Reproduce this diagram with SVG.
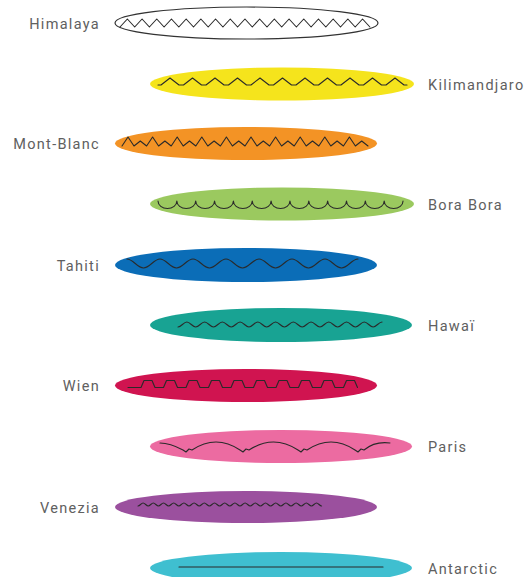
<svg xmlns="http://www.w3.org/2000/svg" width="526" height="577" viewBox="0 0 526 577">
<style>
.lbl{font-family:Roboto,"Liberation Sans",sans-serif;font-size:14.5px;letter-spacing:1.3px;fill:#606060}
.l{text-anchor:end}
.w{fill:none;stroke:#2a2a2a;stroke-width:1.1;stroke-linejoin:round;stroke-linecap:round}
</style>
<rect width="526" height="577" fill="#fff"/>
<g id="himalaya">
<ellipse cx="246.5" cy="23" rx="131.5" ry="16" fill="#fff" stroke="#333" stroke-width="1.2"/>
<path class="w" d="M120,27 l7.35,-8 7.35,8 7.35,-8 7.35,8 7.35,-8 7.35,8 7.35,-8 7.35,8 7.35,-8 7.35,8 7.35,-8 7.35,8 7.35,-8 7.35,8 7.35,-8 7.35,8 7.35,-8 7.35,8 7.35,-8 7.35,8 7.35,-8 7.35,8 7.35,-8 7.35,8 7.35,-8 7.35,8 7.35,-8 7.35,8 7.35,-8 7.35,8 7.35,-8 7.35,8 7.35,-8 7.35,8"/>
<text class="lbl l" x="100" y="28.5">Himalaya</text>
</g>
<g id="kilimandjaro">
<ellipse cx="282" cy="84" rx="132" ry="16.5" fill="#f5e41c"/>
<path class="w" d="M158,85 h3 l9,-7 9,7 4.5,0 9,-7 9,7 4.5,0 9,-7 9,7 4.5,0 9,-7 9,7 4.5,0 9,-7 9,7 4.5,0 9,-7 9,7 4.5,0 9,-7 9,7 4.5,0 9,-7 9,7 4.5,0 9,-7 9,7 4.5,0 9,-7 9,7 4.5,0 9,-7 9,7 h3"/>
<text class="lbl" x="428" y="89.5">Kilimandjaro</text>
</g>
<g id="mont-blanc">
<ellipse cx="246" cy="143.5" rx="131" ry="16.5" fill="#f39325"/>
<path class="w" d="M122,146 l6,-9 6,9 6.3,-5 6.3,5 6,-9 6,9 6.3,-5 6.3,5 6,-9 6,9 6.3,-5 6.3,5 6,-9 6,9 6.3,-5 6.3,5 6,-9 6,9 6.3,-5 6.3,5 6,-9 6,9 6.3,-5 6.3,5 6,-9 6,9 6.3,-5 6.3,5 6,-9 6,9 6.3,-5 6.3,5 6,-9 6,9 6.3,-5 6.3,5 6,-9 6,9 6.3,-5 6.3,5"/>
<text class="lbl l" x="100" y="149">Mont-Blanc</text>
</g>
<g id="bora-bora">
<ellipse cx="282" cy="204" rx="132" ry="16.5" fill="#9bc95f"/>
<path class="w" d="M158,201 a9.42,7.5 0 0 0 18.85,0 a9.42,7.5 0 0 0 18.85,0 a9.42,7.5 0 0 0 18.85,0 a9.42,7.5 0 0 0 18.85,0 a9.42,7.5 0 0 0 18.85,0 a9.42,7.5 0 0 0 18.85,0 a9.42,7.5 0 0 0 18.85,0 a9.42,7.5 0 0 0 18.85,0 a9.42,7.5 0 0 0 18.85,0 a9.42,7.5 0 0 0 18.85,0 a9.42,7.5 0 0 0 18.85,0 a9.42,7.5 0 0 0 18.85,0 a9.42,7.5 0 0 0 18.85,0"/>
<text class="lbl" x="428" y="209.5">Bora Bora</text>
</g>
<g id="tahiti">
<ellipse cx="246" cy="265" rx="131" ry="17" fill="#0b6db7"/>
<path class="w" d="M127,259 c6,0 10.5,9 16.5,9 s10.5,-9 16.5,-9 s10.5,9 16.5,9 s10.5,-9 16.5,-9 s10.5,9 16.5,9 s10.5,-9 16.5,-9 s10.5,9 16.5,9 s10.5,-9 16.5,-9 s10.5,9 16.5,9 s10.5,-9 16.5,-9 s10.5,9 16.5,9 s10.5,-9 16.5,-9 s10.5,9 16.5,9 s10.5,-9 16.5,-9"/>
<text class="lbl l" x="100" y="270.5">Tahiti</text>
</g>
<g id="hawai">
<ellipse cx="281" cy="325" rx="131" ry="17" fill="#18a393"/>
<path class="w" d="M178,327 c3.2,0 5.67,-5 8.87,-5 s5.67,5 8.87,5 s5.67,-5 8.87,-5 s5.67,5 8.87,5 s5.67,-5 8.87,-5 s5.67,5 8.87,5 s5.67,-5 8.87,-5 s5.67,5 8.87,5 s5.67,-5 8.87,-5 s5.67,5 8.87,5 s5.67,-5 8.87,-5 s5.67,5 8.87,5 s5.67,-5 8.87,-5 s5.67,5 8.87,5 s5.67,-5 8.87,-5 s5.67,5 8.87,5 s5.67,-5 8.87,-5 s5.67,5 8.87,5 s5.67,-5 8.87,-5 s5.67,5 8.87,5 s5.67,-5 8.87,-5 s5.67,5 8.87,5 s5.67,-5 8.87,-5"/>
<text class="lbl" x="428" y="330.5">Hawaï</text>
</g>
<g id="wien">
<ellipse cx="246" cy="385.5" rx="131" ry="16.5" fill="#d01450"/>
<path class="w" d="M128,387.5 h13 l3,-7 h8 l3,7 h8.5 l3,-7 h8 l3,7 h8.5 l3,-7 h8 l3,7 h8.5 l3,-7 h8 l3,7 h8.5 l3,-7 h8 l3,7 h8.5 l3,-7 h8 l3,7 h8.5 l3,-7 h8 l3,7 h8.5 l3,-7 h8 l3,7 h8.5 l3,-7 h8 l3,7 h8.5 l3,-7 h8 l3,7"/>
<text class="lbl l" x="100" y="391">Wien</text>
</g>
<g id="paris">
<ellipse cx="281" cy="446.5" rx="131" ry="16.5" fill="#ec6ba1"/>
<path class="w" d="M160,443 Q170,443 183,450 l3,2 3,-3 3,1 Q216,434 240,450 l3,2 3,-3 3,1 Q273.5,434 298,450 l3,2 3,-3 3,1 Q331,434 355,450 l3,2 3,-3 3,1 Q375,441 390,443"/>
<text class="lbl" x="428" y="452">Paris</text>
</g>
<g id="venezia">
<ellipse cx="246" cy="507" rx="131" ry="16" fill="#9b509e"/>
<path class="w" d="M138,506 c1.8,0 3.3,-3 5.1,-3 s3.3,3 5.1,3 s3.3,-3 5.1,-3 s3.3,3 5.1,3 s3.3,-3 5.1,-3 s3.3,3 5.1,3 s3.3,-3 5.1,-3 s3.3,3 5.1,3 s3.3,-3 5.1,-3 s3.3,3 5.1,3 s3.3,-3 5.1,-3 s3.3,3 5.1,3 s3.3,-3 5.1,-3 s3.3,3 5.1,3 s3.3,-3 5.1,-3 s3.3,3 5.1,3 s3.3,-3 5.1,-3 s3.3,3 5.1,3 s3.3,-3 5.1,-3 s3.3,3 5.1,3 s3.3,-3 5.1,-3 s3.3,3 5.1,3 s3.3,-3 5.1,-3 s3.3,3 5.1,3 s3.3,-3 5.1,-3 s3.3,3 5.1,3 s3.3,-3 5.1,-3 s3.3,3 5.1,3 s3.3,-3 5.1,-3 s3.3,3 5.1,3 s3.3,-3 5.1,-3 s3.3,3 5.1,3 s3.3,-3 5.1,-3 s3.3,3 5.1,3 s3.3,-3 5.1,-3 s3.3,3 5.1,3"/>
<text class="lbl l" x="100" y="512.5">Venezia</text>
</g>
<g id="antarctic">
<ellipse cx="281" cy="568" rx="131" ry="16" fill="#3fbfd0"/>
<path class="w" d="M179,567 H383"/>
<text class="lbl" x="428" y="573.5">Antarctic</text>
</g>
</svg>
